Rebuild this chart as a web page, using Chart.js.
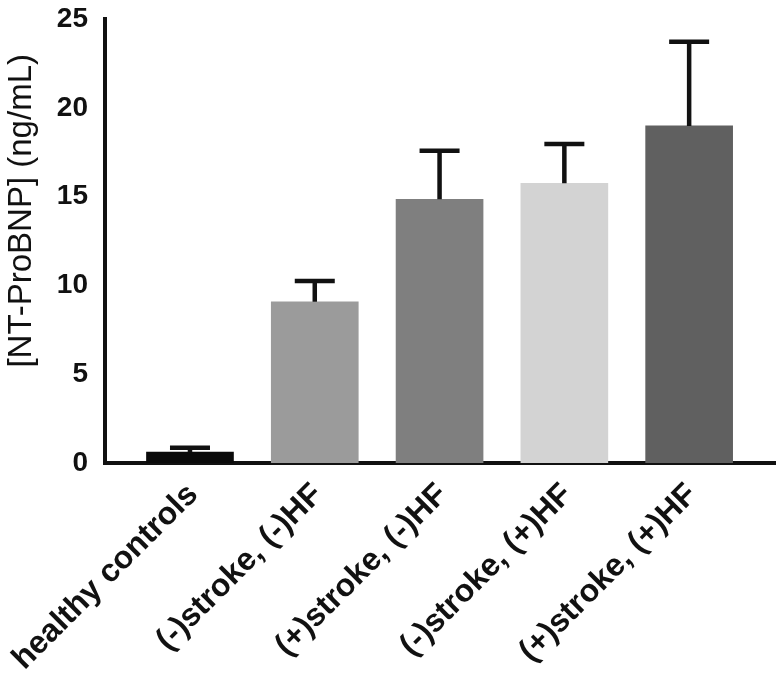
<!DOCTYPE html>
<html>
<head>
<meta charset="utf-8">
<script src="https://cdn.jsdelivr.net/npm/chart.js@4/dist/chart.umd.min.js"></script>
<style>
html,body{margin:0;padding:0;background:#fff;}
#wrap{width:780px;height:686px;position:relative;}
</style>
</head>
<body>
<div id="wrap"><canvas id="c" width="780" height="686"></canvas></div>
<script>
const categories = ["healthy controls", "(-)stroke, (-)HF", "(+)stroke, (-)HF", "(-)stroke, (+)HF", "(+)stroke, (+)HF"];
const means = [0.62, 9.08, 14.85, 15.75, 18.98];
const errors = [0.24, 1.17, 2.73, 2.21, 4.74];
const yTicks = [0, 5, 10, 15, 20, 25];
const barColors = ["#0a0a0a", "#9b9b9b", "#7f7f7f", "#d3d3d3", "#606060"];
const yTitle = "[NT-ProBNP] (ng/mL)";

const FONT = "'Liberation Sans', Arial, sans-serif";

const errorBarPlugin = {
  id: 'errorBars',
  afterDatasetsDraw(chart) {
    const ctx = chart.ctx;
    const xs = chart.scales.x, ys = chart.scales.y;
    ctx.save();
    ctx.strokeStyle = '#111';
    ctx.lineWidth = 4.5;
    means.forEach((m, i) => {
      const x = xs.getPixelForValue(i);
      const y0 = ys.getPixelForValue(m);
      const y1 = ys.getPixelForValue(m + errors[i]);
      ctx.beginPath();
      ctx.moveTo(x, y0);
      ctx.lineTo(x, y1);
      ctx.moveTo(x - 20, y1);
      ctx.lineTo(x + 20, y1);
      ctx.stroke();
    });
    ctx.restore();
  }
};

const yTitlePlugin = {
  id: 'yTitle',
  afterDraw(chart) {
    const ctx = chart.ctx;
    const ys = chart.scales.y;
    ctx.save();
    ctx.translate(22, ys.getPixelForValue(14.2));
    ctx.rotate(-Math.PI / 2);
    ctx.font = "33px " + FONT;
    ctx.fillStyle = '#111';
    ctx.textAlign = 'center';
    ctx.textBaseline = 'middle';
    ctx.fillText(yTitle, 0, 0);
    ctx.restore();
  }
};

new Chart(document.getElementById('c'), {
  type: 'bar',
  data: {
    datasets: [{
      data: means.map((v, i) => ({x: i, y: v})),
      backgroundColor: barColors,
      borderWidth: 0,
      barThickness: 87
    }]
  },
  options: {
    responsive: false,
    animation: false,
    events: [],
    layout: {padding: {top: 19, right: 5, left: 0, bottom: 0}},
    plugins: {legend: {display: false}, tooltip: {enabled: false}},
    scales: {
      x: {
        type: 'linear',
        offset: false,
        min: -0.681,
        max: 4.688,
        grid: {display: false, drawOnChartArea: false, drawTicks: true, tickLength: 11, tickWidth: 4.5, tickColor: '#111', offset: false},
        border: {display: true, color: '#111', width: 4},
        afterBuildTicks: s => { s.ticks = categories.map((_, i) => ({value: i})); },
        afterFit: s => { s.height = 223; s.paddingLeft = 0; s.paddingRight = 0; },
        ticks: {
          autoSkip: false,
          maxRotation: 45,
          minRotation: 45,
          color: '#111',
          padding: 2,
          labelOffset: 3,
          font: {family: FONT, size: 32, weight: 'bold'},
          callback: v => categories[v]
        }
      },
      y: {
        min: 0,
        max: 25,
        afterBuildTicks: s => { s.ticks = yTicks.map(v => ({value: v})); },
        afterFit: s => { s.width = 105; s.paddingTop = 0; s.paddingBottom = 0; },
        grid: {display: false, drawOnChartArea: false, drawTicks: true, tickLength: 11, tickWidth: 4, tickColor: '#111'},
        border: {display: true, color: '#111', width: 4},
        ticks: {
          color: '#111',
          padding: 6,
          font: {family: FONT, size: 28, weight: 'bold'}
        }
      }
    }
  },
  plugins: [errorBarPlugin, yTitlePlugin]
});
</script>
</body>
</html>
